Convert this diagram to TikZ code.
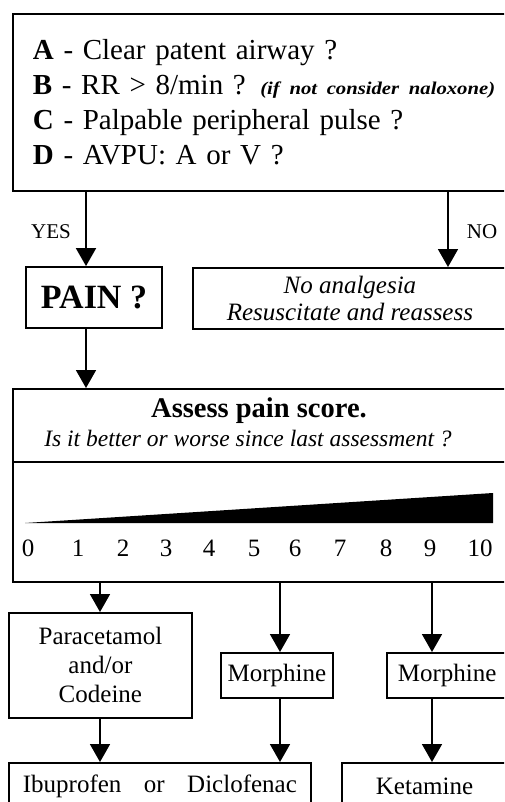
\documentclass[tikz,border=0pt]{standalone}
\usepackage{fontspec}
\setmainfont{Liberation Serif}
\newfontfamily\widefont{Liberation Serif}[FakeStretch=1.15]
\usetikzlibrary{arrows.meta,positioning}

\newcommand{\sz}[2]{\fontsize{#1}{#2}\selectfont}

\tikzset{
  box/.style={draw, line width=1.8pt, rectangle, inner sep=0pt},
  arr/.style={line width=1.8pt, -{Triangle[width=20pt,length=18pt]}},
}

\begin{document}
\begin{tikzpicture}[x=1pt,y=-1pt]
\clip (0,0) rectangle (504,802);

% ABCD check
\node[box, anchor=north west, minimum height=177pt, text width=530pt, align=left, inner xsep=20pt,
      font={\sz{29}{35}}] (abcd) at (12,13)
  {\textbf{A} - Clear patent airway ?\\
   \textbf{B} - RR > 8/min ? {\widefont\sz{18}{35}\bfseries\itshape (if not consider naloxone)}\\
   \textbf{C} - Palpable peripheral pulse ?\\
   \textbf{D} - AVPU: A or V ?};

\node[box, minimum width=136pt, minimum height=61pt, font={\sz{34}{40}\bfseries}] (pain) at (94,297.5) {PAIN ?};
\node[box, anchor=north west, minimum width=314pt, minimum height=61pt, align=center,
      font={\sz{25}{27}\itshape}] (noan) at (192,267)
  {No analgesia\\ Resuscitate and reassess};

\node[font={\sz{21}{24}}] at (51,232) (yes) {YES};
\node[font={\sz{21}{24}}] at (482,232) (no) {NO};

% pain score
\node[box, anchor=north west, minimum width=496pt, minimum height=193pt] (assess) at (12,388) {};
\coordinate (dv) at (0,462);
\draw[line width=1.8pt] (assess.west |- dv) -- (assess.east |- dv);
\node[font={\sz{28.5}{30}\bfseries}] (title) at (259,411) {Assess pain score.};
\node[font={\sz{23.5}{25}\itshape}] (sub) at (248,439) {Is it better or worse since last assessment ?};
\fill (25,523) -- (493,493) -- (493,523) -- cycle;
\foreach \n/\xx in {0/28,1/78,2/123,3/166,4/209,5/254,6/295,7/340,8/386,9/430,10/480}
  \node[font={\sz{25}{28}}] (s\n) at (\xx,548) {\n};

% drugs
\node[box, anchor=north west, minimum width=183pt, minimum height=105pt, align=center,
      font={\sz{25}{29}}] (para) at (8,612)
  {Paracetamol\\ and/or\\ Codeine};
\node[box, anchor=north west, minimum width=112pt, minimum height=45pt, font={\sz{25}{28}}] (morph1) at (220,652) {Morphine};
\node[box, anchor=north west, minimum height=45pt, text width=100pt, align=left, inner xsep=11pt,
      font={\sz{25}{28}}] (morph2) at (386,652) {Morphine};
\node[box, anchor=north west, minimum height=46pt, text width=274pt, align=justify, inner xsep=14pt,
      font={\sz{25}{28}}] (ibu) at (8,762)
  {Ibuprofen \hfill or \hfill Diclofenac};
\node[box, anchor=north west, minimum height=46pt, text width=120pt, align=left, inner xsep=34pt,
      font={\sz{25}{28}}] (keta) at (341,762) {Ketamine};

% connectors
\coordinate (yx) at (86,0);
\coordinate (nx) at (448,0);
\coordinate (lx) at (100,0);
\coordinate (mx) at (280,0);
\coordinate (rx) at (432,0);
\draw[arr] (abcd.south -| yx) -- (pain.north -| yx);
\draw[arr] (abcd.south -| nx) -- (noan.north -| nx);
\draw[arr] (pain.south -| yx) -- (assess.north -| yx);
\draw[arr] (assess.south -| lx) -- (para.north -| lx);
\draw[arr] (assess.south -| mx) -- (morph1.north -| mx);
\draw[arr] (assess.south -| rx) -- (morph2.north -| rx);
\draw[arr] (para.south -| lx) -- (ibu.north -| lx);
\draw[arr] (morph1.south -| mx) -- (ibu.north -| mx);
\draw[arr] (morph2.south -| rx) -- (keta.north -| rx);
\end{tikzpicture}
\end{document}
